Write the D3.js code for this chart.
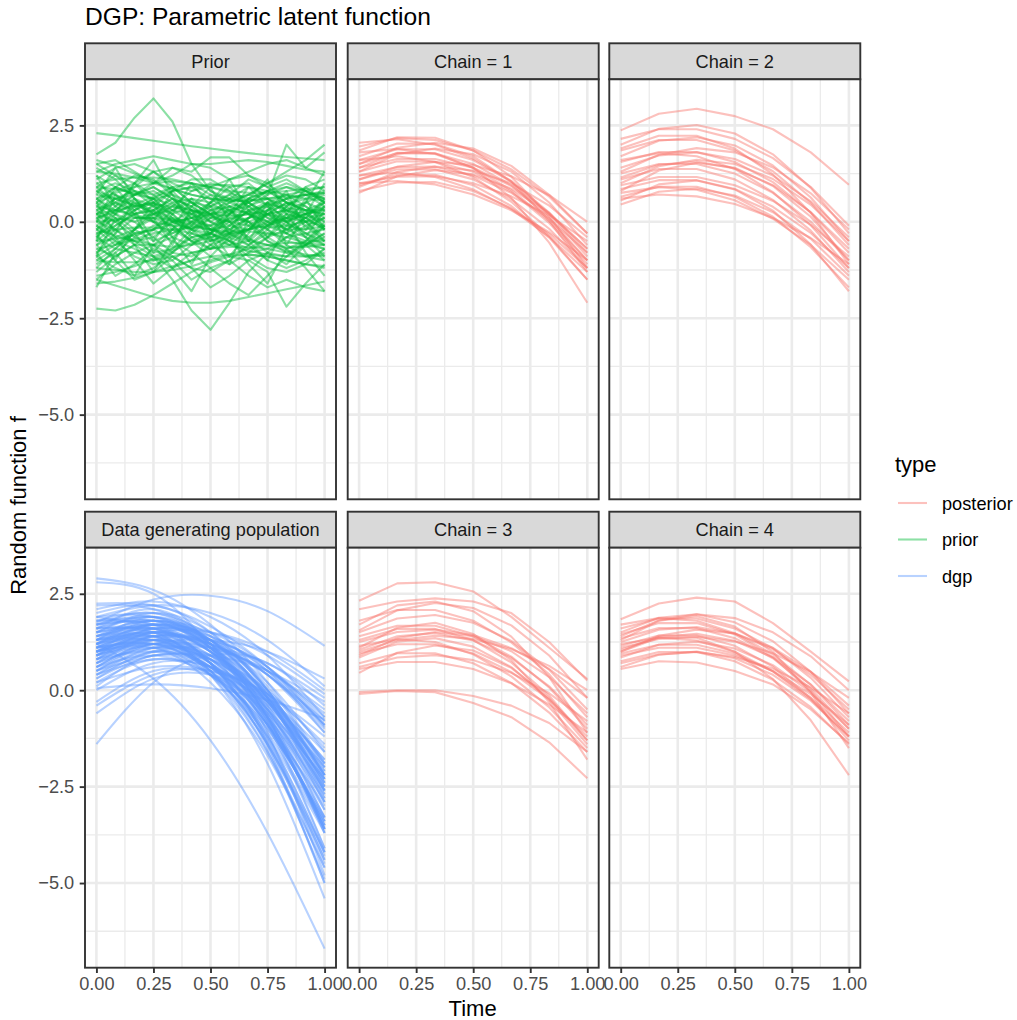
<!DOCTYPE html>
<html>
<head>
<meta charset="utf-8">
<script src="https://cdn.jsdelivr.net/npm/d3@7"></script>
<style>
  body { margin: 0; background: #ffffff; }
  svg { display: block; font-family: "Liberation Sans", Arial, Helvetica, sans-serif; }
</style>
</head>
<body>
<svg id="chart" width="1017" height="1020"></svg>
<script>
// ---------------------------------------------------------------
// Data: draws of the latent function f(time)
// ---------------------------------------------------------------

// Facet labels, in reading order (row 1 then row 2)
const panelLabels = ["Prior", "Chain = 1", "Chain = 2",
                     "Data generating population", "Chain = 3", "Chain = 4"];

// Legend entries and their colours
const typeLabels = ["posterior", "prior", "dgp"];
const typeColors = ["#F8766D", "#00BA38", "#619CFF"];

// Axis ticks
const xTicks = [0, 0.25, 0.5, 0.75, 1];
const yTicks = [-5, -2.5, 0, 2.5];

// Time points of each kind of draw
const priorTime = [0, 0.083, 0.167, 0.25, 0.333, 0.417, 0.5, 0.583, 0.667, 0.75, 0.833, 0.917, 1];
const postTime  = [0, 0.167, 0.333, 0.5, 0.667, 0.833, 1];
const dgpTime   = [0, 0.25, 0.5, 0.75, 1];

// Prior draws of f (Gaussian-process prior)
const priorDraws = [
  [0.2, 0.3, 0.4, 0.45, 0.4, 0.3, 0.15, 0.0, -0.1, -0.15, -0.1, 0.0, 0.1],
  [-0.5, -0.45, -0.35, -0.2, -0.05, 0.1, 0.2, 0.25, 0.25, 0.2, 0.1, 0.0, -0.1],
  [0.9, 0.85, 0.75, 0.6, 0.45, 0.3, 0.2, 0.15, 0.2, 0.3, 0.45, 0.6, 0.75],
  [-1.0, -1.05, -1.05, -1.0, -0.9, -0.8, -0.7, -0.65, -0.65, -0.7, -0.8, -0.9, -1.0],
  [0.6, 0.75, 0.9, 1.0, 1.05, 1.0, 0.9, 0.75, 0.6, 0.45, 0.35, 0.3, 0.3],
  [-0.2, -0.35, -0.5, -0.6, -0.65, -0.6, -0.5, -0.35, -0.2, -0.05, 0.1, 0.2, 0.3],
  [1.3, 1.25, 1.15, 1.0, 0.85, 0.7, 0.6, 0.55, 0.55, 0.6, 0.7, 0.8, 0.9],
  [0.0, 0.05, 0.1, 0.1, 0.05, -0.05, -0.2, -0.35, -0.5, -0.6, -0.65, -0.65, -0.6],
  [-1.4, -1.3, -1.15, -0.95, -0.75, -0.55, -0.4, -0.3, -0.25, -0.3, -0.4, -0.55, -0.7],
  [0.4, 0.3, 0.15, 0.0, -0.1, -0.15, -0.1, 0.05, 0.25, 0.45, 0.6, 0.7, 0.75],
  [1.0, 1.1, 1.15, 1.15, 1.1, 1.0, 0.9, 0.8, 0.75, 0.75, 0.8, 0.85, 0.9],
  [-0.7, -0.6, -0.45, -0.3, -0.2, -0.15, -0.2, -0.3, -0.45, -0.6, -0.75, -0.85, -0.9],
  [0.7, 0.6, 0.45, 0.25, 0.05, -0.1, -0.2, -0.25, -0.2, -0.1, 0.05, 0.2, 0.35],
  [-1.6, -1.55, -1.45, -1.3, -1.15, -1.0, -0.9, -0.85, -0.85, -0.9, -1.0, -1.1, -1.2],
  [0.1, 0.25, 0.45, 0.65, 0.8, 0.9, 0.95, 0.95, 0.9, 0.8, 0.7, 0.6, 0.55],
  [-0.3, -0.2, -0.15, -0.15, -0.2, -0.3, -0.45, -0.6, -0.75, -0.85, -0.9, -0.9, -0.85],
  [1.6, 1.45, 1.25, 1.05, 0.85, 0.7, 0.6, 0.55, 0.55, 0.6, 0.65, 0.7, 0.75],
  [-1.2, -1.25, -1.3, -1.3, -1.25, -1.15, -1.0, -0.85, -0.7, -0.6, -0.55, -0.55, -0.6],
  [0.5, 0.9, 1.2, 1.1, 0.7, 0.3, 0.1, 0.2, 0.5, 0.8, 0.9, 0.7, 0.4],
  [-0.8, -0.3, 0.1, 0.2, -0.1, -0.5, -0.7, -0.5, -0.1, 0.2, 0.3, 0.1, -0.2],
  [0.3, 0.0, -0.4, -0.6, -0.4, 0.0, 0.4, 0.6, 0.5, 0.2, -0.1, -0.2, -0.1],
  [1.1, 1.4, 1.5, 1.3, 1.0, 0.8, 0.9, 1.1, 1.2, 1.0, 0.6, 0.2, -0.1],
  [-0.1, -0.5, -0.9, -1.1, -1.0, -0.6, -0.2, 0.1, 0.2, 0.0, -0.3, -0.5, -0.5],
  [0.8, 0.4, 0.1, 0.1, 0.4, 0.8, 1.0, 0.9, 0.5, 0.1, -0.2, -0.2, 0.1],
  [-1.1, -0.8, -0.4, -0.1, 0.0, -0.2, -0.6, -0.9, -1.0, -0.8, -0.4, -0.1, 0.1],
  [0.0, 0.4, 0.7, 0.6, 0.2, -0.2, -0.3, 0.0, 0.4, 0.6, 0.4, 0.0, -0.4],
  [0.6, 0.3, 0.2, 0.4, 0.8, 1.1, 1.1, 0.8, 0.4, 0.1, 0.0, 0.2, 0.5],
  [-0.4, -0.7, -0.8, -0.6, -0.2, 0.2, 0.4, 0.3, -0.1, -0.5, -0.7, -0.6, -0.3],
  [1.4, 1.1, 0.6, 0.2, 0.0, 0.1, 0.3, 0.4, 0.2, -0.2, -0.5, -0.6, -0.4],
  [-0.6, -0.2, 0.3, 0.6, 0.7, 0.5, 0.2, -0.1, -0.2, 0.0, 0.4, 0.7, 0.8],
  [0.2, 0.6, 0.8, 0.6, 0.1, -0.4, -0.7, -0.6, -0.2, 0.3, 0.6, 0.7, 0.6],
  [-1.3, -0.9, -0.6, -0.6, -0.9, -1.2, -1.3, -1.0, -0.6, -0.3, -0.3, -0.6, -1.0],
  [0.9, 1.2, 1.0, 0.5, 0.0, -0.2, 0.1, 0.5, 0.7, 0.6, 0.3, 0.2, 0.4],
  [-0.9, -1.2, -1.4, -1.2, -0.8, -0.4, -0.3, -0.5, -0.9, -1.2, -1.3, -1.1, -0.7],
  [0.3, 0.5, 0.9, 1.3, 1.4, 1.2, 0.8, 0.6, 0.7, 1.0, 1.2, 1.1, 0.8],
  [-0.2, 0.1, 0.0, -0.4, -0.8, -0.9, -0.6, -0.1, 0.3, 0.4, 0.1, -0.3, -0.6],
  [0.5, -0.3, 0.6, 0.1, -0.6, 0.4, 0.9, 0.0, -0.5, 0.3, 0.8, -0.2, 0.4],
  [-0.5, 0.7, 0.2, -0.8, -0.2, 0.6, -0.4, -1.1, 0.1, 0.5, -0.6, 0.2, 1.0],
  [1.2, 0.4, 1.0, 1.6, 0.7, -0.1, 0.5, 1.1, 0.3, -0.4, 0.2, 0.9, 0.5],
  [-0.9, 0.1, -0.6, -1.3, -0.5, 0.3, -0.2, -0.9, -0.3, 0.5, 0.0, -0.8, -1.4],
  [0.0, 0.9, 0.3, -0.5, 0.2, 1.0, 0.4, -0.3, 0.6, 1.1, 0.2, -0.4, 0.3],
  [-1.7, -0.8, -1.4, -0.6, -1.2, -1.8, -0.9, -0.4, -1.1, -1.6, -0.7, -1.2, -1.8],
  [0.7, 1.4, 0.6, 0.0, 0.8, 0.3, -0.5, 0.2, 0.9, 0.4, -0.3, 0.5, 1.3],
  [-0.3, -1.0, -0.2, 0.5, -0.4, -1.1, -0.3, 0.4, -0.5, -1.0, -0.1, 0.6, -0.2],
  [2.3, 2.24, 2.17, 2.1, 2.03, 1.96, 1.9, 1.84, 1.78, 1.73, 1.68, 1.64, 1.6],
  [1.75, 2.05, 2.7, 3.2, 2.6, 1.5, 0.8, 0.5, 0.7, 1.0, 1.3, 1.6, 2.0],
  [0.2, 0.5, 0.3, 0.6, 0.9, 0.5, 0.2, 0.6, 0.9, 0.7, 2.0, 1.4, 1.8],
  [-0.2, -0.6, -0.3, -0.9, -1.5, -2.3, -2.8, -2.1, -1.3, -0.8, -1.1, -0.6, -0.3],
  [-2.25, -2.3, -2.15, -1.9, -1.6, -1.3, -1.05, -0.9, -0.85, -0.9, -1.0, -1.1, -1.15],
  [-1.5, -1.65, -1.8, -1.95, -2.05, -2.1, -2.1, -2.05, -1.95, -1.85, -1.75, -1.65, -1.55],
  [-0.6, -1.0, -1.5, -1.3, -0.9, -1.2, -1.7, -1.4, -1.0, -1.3, -2.2, -1.6, -1.1],
  [-0.8, -1.4, -1.1, -0.7, -1.0, -1.5, -1.2, -1.0, -1.4, -1.7, -1.5, -1.7, -1.8],
  [0.1, -0.4, -1.0, -1.6, -1.2, -0.8, -1.2, -1.6, -1.9, -1.4, -0.9, -0.6, -0.7],
  [0.6, 0.9, 0.7, 1.0, 1.4, 1.3, 1.67, 1.67, 1.2, 0.9, 1.1, 0.8, 0.6],
  [1.5, 1.6, 1.3, 1.0, 1.2, 1.5, 1.4, 1.1, 1.3, 1.5, 1.6, 1.4, 1.2],
  [1.3, 1.5, 1.6, 1.7, 1.6, 1.5, 1.5, 1.55, 1.6, 1.55, 1.45, 1.35, 1.3],
  [-0.4, 0.2, 1.0, 1.3, 0.9, 0.5, 0.4, 0.7, 1.1, 0.9, 0.5, 0.3, 0.2],
  [0.4, 0.1, -0.3, -0.2, 0.3, 0.5, 0.2, -0.3, -0.6, -0.2, 0.4, 0.8, 0.5],
  [-0.1, 0.2, 0.5, 0.3, -0.2, -0.5, -0.3, 0.2, 0.6, 0.8, 0.5, 0.0, -0.5],
  [0.8, 0.6, 0.7, 0.9, 0.6, 0.2, 0.0, 0.3, 0.5, 0.2, -0.2, 0.1, 0.6],
  [0.2, 0.0, 0.3, 0.5, 0.3, 0.0, 0.2, 0.4, 0.2, 0.0, 0.1, 0.3, 0.2],
  [-0.6, -0.4, -0.5, -0.8, -0.7, -0.4, -0.3, -0.5, -0.8, -0.7, -0.4, -0.3, -0.5],
  [0.5, 0.7, 0.5, 0.2, 0.3, 0.6, 0.5, 0.2, 0.0, 0.2, 0.5, 0.4, 0.1],
  [-0.3, -0.1, 0.2, 0.3, 0.1, -0.2, -0.4, -0.2, 0.1, 0.2, 0.0, -0.3, -0.2],
  [1.0, 0.7, 0.4, 0.5, 0.8, 0.9, 0.6, 0.3, 0.4, 0.7, 0.9, 0.8, 0.6],
  [-1.0, -0.7, -0.3, -0.2, -0.5, -0.8, -0.7, -0.3, 0.0, -0.2, -0.6, -0.9, -0.8],
  [0.3, 0.6, 0.4, 0.0, -0.3, -0.1, 0.3, 0.5, 0.3, -0.1, -0.3, 0.0, 0.4],
  [-0.7, -0.9, -0.6, -0.2, 0.1, 0.0, -0.3, -0.6, -0.5, -0.1, 0.2, 0.1, -0.2],
  [0.1, 0.3, 0.7, 0.9, 0.6, 0.1, -0.2, -0.1, 0.3, 0.5, 0.3, 0.1, 0.2],
  [-0.5, -0.1, 0.2, 0.0, -0.4, -0.6, -0.3, 0.1, 0.0, -0.4, -0.7, -0.5, 0.0],
  [0.9, 0.5, 0.2, 0.3, 0.6, 0.4, 0.0, -0.2, 0.1, 0.5, 0.7, 0.4, 0.0],
  [-1.2, -0.7, -0.2, 0.1, -0.1, -0.5, -0.9, -1.1, -0.8, -0.4, -0.2, -0.4, -0.9],
  [0.4, 0.8, 1.0, 0.7, 0.3, 0.2, 0.5, 0.9, 1.0, 0.6, 0.2, 0.0, 0.2],
  [-0.1, -0.4, -0.2, 0.3, 0.6, 0.4, 0.0, -0.3, -0.2, 0.2, 0.5, 0.3, -0.2],
  [1.2, 0.9, 0.7, 0.8, 0.5, 0.1, -0.1, 0.2, 0.6, 0.8, 0.5, 0.3, 0.5],
  [-0.8, -0.5, -0.7, -1.0, -0.8, -0.3, 0.1, 0.0, -0.4, -0.8, -0.9, -0.5, -0.1],
  [0.0, -0.2, -0.5, -0.4, 0.0, 0.3, 0.2, -0.2, -0.4, -0.1, 0.3, 0.5, 0.3],
  [0.6, 0.2, 0.0, 0.2, 0.5, 0.6, 0.3, 0.0, 0.1, 0.4, 0.6, 0.9, 1.1],
  [-0.4, 0.0, 0.4, 0.5, 0.2, -0.3, -0.5, -0.3, 0.1, 0.3, 0.0, -0.4, -0.6],
  [0.2, -0.2, -0.6, -0.9, -0.7, -0.2, 0.2, 0.3, 0.0, -0.5, -0.8, -0.6, -0.1],
  [-1.5, -1.1, -0.8, -0.9, -1.2, -1.0, -0.6, -0.4, -0.6, -1.0, -1.2, -1.0, -0.7],
  [0.8, 1.0, 0.8, 0.4, 0.2, 0.4, 0.7, 0.6, 0.2, -0.1, 0.1, 0.5, 0.7],
  [-0.2, 0.3, 0.6, 0.4, 0.0, 0.1, 0.5, 0.7, 0.4, 0.0, -0.2, 0.1, 0.5],
  [0.5, 0.2, -0.2, -0.5, -0.3, 0.0, -0.1, -0.5, -0.7, -0.4, 0.0, 0.2, 0.0],
  [-0.9, -0.6, -0.2, 0.2, 0.4, 0.2, -0.2, -0.4, -0.2, 0.2, 0.3, -0.1, -0.5],
  [1.5, 1.2, 0.8, 0.7, 0.9, 1.0, 0.7, 0.4, 0.5, 0.8, 1.0, 0.8, 0.5]
];

// Quadratic curves of the data generating population
const dgpDraws = [
  [1.0, 1.4, 1.2, 0.4, -1.0], [1.2, 1.5, 1.0, -0.3, -2.4], [0.8, 1.3, 0.9, -0.4, -2.6],
  [1.5, 1.6, 1.0, -0.3, -2.3], [0.5, 1.1, 0.9, -0.1, -1.9], [1.7, 1.8, 1.4, 0.5, -0.9],
  [1.3, 1.7, 1.1, -0.5, -3.1], [0.9, 1.5, 1.0, -0.6, -3.3], [1.1, 1.3, 1.1, 0.5, -0.5],
  [0.3, 0.9, 0.8, 0.0, -1.5], [1.6, 1.9, 1.3, -0.2, -2.6], [1.0, 1.2, 0.8, -0.2, -1.8],
  [0.6, 1.2, 0.6, -1.2, -4.2], [1.4, 1.8, 1.1, -0.7, -3.6], [1.8, 1.7, 1.0, -0.3, -2.2],
  [0.4, 1.0, 1.1, 0.7, -0.2], [1.2, 1.6, 0.7, -1.5, -5.0], [0.7, 1.1, 0.8, -0.2, -1.9],
  [1.0, 1.6, 1.3, 0.1, -2.0], [1.9, 1.9, 1.1, -0.5, -2.9], [0.2, 0.8, 0.4, -1.0, -3.4],
  [1.3, 1.5, 1.2, 0.4, -0.9], [1.1, 1.7, 1.1, -0.7, -3.7], [0.8, 1.0, 0.6, -0.4, -2.0],
  [1.5, 2.0, 1.5, 0.0, -2.5], [0.0, 0.7, 0.6, -0.3, -2.0], [1.6, 1.6, 1.2, 0.4, -0.8],
  [0.9, 1.3, 0.7, -0.9, -3.5], [1.2, 1.4, 0.7, -0.9, -3.4], [0.6, 1.3, 1.3, 0.6, -0.8],
  [1.4, 1.5, 0.4, -1.9, -5.4], [2.2, 2.1, 1.3, -0.2, -2.4], [1.0, 1.5, 1.5, 1.0, 0.0],
  [0.7, 1.4, 1.1, -0.2, -2.5], [1.3, 1.3, 0.7, -0.5, -2.3], [0.5, 0.9, 0.9, 0.5, -0.3],
  [1.7, 2.0, 1.2, -0.7, -3.7], [1.1, 1.2, 0.5, -1.0, -3.3], [0.3, 1.0, 0.6, -0.9, -3.5],
  [1.5, 1.8, 1.5, 0.6, -0.9], [0.9, 1.1, 0.4, -1.2, -3.7], [1.2, 1.8, 1.2, -0.6, -3.6],
  [0.8, 1.2, 1.1, 0.5, -0.6], [1.4, 1.7, 1.2, -0.1, -2.2], [1.0, 1.1, 0.2, -1.7, -4.6],
  [0.4, 1.1, 0.9, -0.2, -2.2], [1.9, 1.6, 0.8, -0.5, -2.3], [1.1, 1.6, 1.4, 0.5, -1.1],
  [0.6, 0.9, 0.4, -0.9, -3.0], [1.3, 1.9, 1.2, -0.8, -4.1], [1.6, 1.5, 0.5, -1.4, -4.2],
  [0.7, 1.2, 1.3, 1.0, 0.3], [1.0, 1.3, 0.5, -1.4, -4.4], [1.8, 2.0, 1.4, 0.0, -2.2],
  [0.2, 0.6, 0.5, -0.1, -1.2], [1.2, 1.3, 0.7, -0.6, -2.6], [0.9, 1.6, 1.3, 0.0, -2.3],
  [1.4, 1.4, 0.4, -1.6, -4.6], [-0.3, 0.5, 0.4, -0.6, -2.5], [1.5, 1.7, 1.5, 0.9, -0.1],
  [0.8, 1.4, 1.2, 0.2, -1.6], [1.1, 1.4, 0.5, -1.6, -4.9], [2.0, 2.2, 1.5, -0.1, -2.6],
  [0.5, 1.2, 0.8, -0.7, -3.3], [1.3, 1.6, 1.3, 0.4, -1.1], [1.0, 1.2, 0.5, -1.1, -3.6],
  [-0.4, 0.4, 0.5, -0.1, -1.4], [1.7, 1.7, 0.7, -1.3, -4.3], [2.9, 2.6, 1.7, 0.2, -1.9],
  [2.8, 2.5, 1.1, -1.4, -5.0], [1.2, 0.3, -1.3, -3.7, -6.7], [-1.4, 0.2, 0.9, 0.7, -0.4],
  [1.75, 2.35, 2.45, 2.05, 1.15], [0.05, 0.15, 0.05, -0.25, -0.75], [2.25, 2.2, 1.65, 0.6, -0.95],
  [2.1, 2.3, 1.9, 0.9, -0.7], [-0.6, 0.3, 0.4, -0.3, -1.8], [0.1, 0.9, 0.4, -1.4, -4.5],
  [1.6, 2.1, 1.2, -1.1, -4.8], [1.9, 2.2, 2.0, 1.3, 0.1],
  [1.1, 1.5, 1.1, -0.1, -2.1], [0.9, 1.2, 0.8, -0.3, -2.1], [1.3, 1.8, 1.3, -0.2, -2.7],
  [0.7, 1.3, 0.8, -0.8, -3.5], [1.5, 1.9, 1.1, -0.9, -4.1], [1.0, 1.4, 0.9, -0.5, -2.8],
  [1.2, 1.7, 1.3, 0.0, -2.2], [0.6, 1.1, 0.6, -0.9, -3.4], [1.4, 1.6, 0.7, -1.3, -4.4],
  [0.8, 1.5, 1.0, -0.7, -3.6], [1.7, 1.9, 1.2, -0.4, -2.9], [1.1, 1.2, 0.6, -0.7, -2.7],
  [0.5, 1.0, 0.6, -0.7, -2.9], [1.3, 1.4, 0.7, -0.8, -3.1], [1.6, 1.8, 1.0, -0.8, -3.6],
  [0.9, 1.4, 1.3, 0.6, -0.7], [1.2, 1.5, 0.7, -1.2, -4.2], [0.4, 0.8, 0.6, -0.2, -1.6],
  [1.0, 1.7, 1.3, -0.2, -2.8], [1.8, 1.8, 1.1, -0.3, -2.4]
];

// Posterior draws of f, one array per MCMC chain
const chain1 = [
  [1.5, 1.78, 1.77, 1.5, 0.95, 0.1, -1.0], [1.2, 1.42, 1.43, 1.2, 0.75, 0.08, -0.8],
  [1.95, 2.17, 2.12, 1.85, 1.36, 0.65, -0.3], [0.8, 1.02, 1.03, 0.8, 0.35, -0.31, -1.2],
  [1.7, 2.03, 2.02, 1.7, 1.04, 0.03, -1.3], [1.0, 1.17, 1.18, 1.0, 0.66, 0.17, -0.5],
  [1.4, 1.79, 1.78, 1.4, 0.62, -0.54, -2.1], [1.3, 1.57, 1.56, 1.3, 0.78, -0.03, -1.1],
  [1.1, 1.43, 1.55, 1.47, 1.18, 0.69, 0.0], [0.9, 1.29, 1.43, 1.33, 1.0, 0.42, -0.4],
  [1.3, 1.76, 1.9, 1.75, 1.3, 0.5, -0.6], [0.75, 1.18, 1.34, 1.23, 0.86, 0.21, -0.7],
  [1.5, 1.92, 2.05, 1.9, 1.45, 0.7, -0.3], [1.8, 1.89, 1.76, 1.4, 0.82, 0.02, -1.0],
  [1.6, 1.7, 1.55, 1.16, 0.52, -0.37, -1.5], [1.2, 1.28, 1.16, 0.84, 0.33, -0.39, -1.3],
  [2.05, 2.14, 2.0, 1.64, 1.06, 0.24, -0.8], [1.0, 1.06, 0.97, 0.71, 0.3, -0.27, -1.0],
  [1.6, 1.88, 1.88, 1.6, 1.04, 0.21, -0.9], [1.1, 1.36, 1.36, 1.1, 0.59, -0.18, -1.2],
  [1.85, 2.19, 2.18, 1.85, 1.17, 0.15, -1.2], [1.4, 1.63, 1.63, 1.4, 0.93, 0.23, -0.7],
  [0.95, 1.22, 1.22, 0.95, 0.41, -0.41, -1.5]
];
const chain2 = [
  [2.37, 2.8, 2.93, 2.74, 2.4, 1.8, 0.96], [2.15, 2.4, 2.4, 2.15, 1.65, 0.9, -0.1],
  [2.0, 2.41, 2.51, 2.29, 1.75, 0.88, -0.3], [1.85, 2.12, 2.12, 1.85, 1.31, 0.49, -0.6],
  [1.7, 2.1, 2.19, 1.98, 1.46, 0.63, -0.5], [1.55, 1.81, 1.81, 1.55, 1.03, 0.24, -0.8],
  [1.4, 1.72, 1.8, 1.63, 1.2, 0.53, -0.4], [1.25, 1.5, 1.5, 1.25, 0.75, 0.0, -1.0],
  [1.15, 1.48, 1.56, 1.38, 0.95, 0.25, -0.7], [1.1, 1.37, 1.37, 1.1, 0.57, -0.23, -1.3],
  [1.0, 1.44, 1.61, 1.5, 1.11, 0.44, -0.5], [0.85, 1.08, 1.08, 0.85, 0.39, -0.29, -1.2],
  [0.75, 0.9, 0.83, 0.56, 0.08, -0.6, -1.5], [0.65, 0.91, 0.91, 0.65, 0.13, -0.66, -1.7],
  [0.55, 0.97, 1.07, 0.84, 0.29, -0.59, -1.8], [0.45, 0.78, 0.86, 0.68, 0.25, -0.44, -1.4],
  [0.8, 1.33, 1.53, 1.4, 0.93, 0.13, -1.0], [1.3, 1.74, 1.91, 1.8, 1.41, 0.74, -0.2],
  [0.6, 0.71, 0.66, 0.46, 0.1, -0.42, -1.1], [1.6, 1.78, 1.7, 1.37, 0.77, -0.09, -1.2],
  [0.95, 1.16, 1.16, 0.95, 0.54, -0.08, -0.9], [1.9, 2.23, 2.23, 1.9, 1.23, 0.23, -1.1]
];
const chain3 = [
  [2.32, 2.77, 2.8, 2.56, 1.9, 1.1, 0.29], [2.1, 2.3, 2.38, 2.3, 2.0, 1.25, 0.25],
  [-0.1, -0.02, -0.05, -0.33, -0.7, -1.35, -2.28], [-0.05, 0.0, 0.0, -0.15, -0.4, -0.85, -1.6],
  [1.5, 1.86, 1.95, 1.75, 1.28, 0.53, -0.5], [1.4, 1.67, 1.67, 1.4, 0.87, 0.07, -1.0],
  [1.25, 1.51, 1.57, 1.43, 1.09, 0.55, -0.2], [1.05, 1.4, 1.48, 1.29, 0.84, 0.1, -0.9],
  [0.95, 1.19, 1.19, 0.95, 0.47, -0.24, -1.2], [0.85, 1.26, 1.35, 1.13, 0.6, -0.24, -1.4],
  [0.7, 0.96, 0.96, 0.7, 0.19, -0.58, -1.6], [0.6, 0.85, 0.91, 0.78, 0.45, -0.08, -0.8],
  [0.45, 0.97, 1.16, 1.03, 0.58, -0.2, -1.3], [1.8, 2.08, 2.08, 1.8, 1.24, 0.41, -0.7],
  [1.7, 2.2, 2.3, 2.05, 1.39, 0.34, -1.1], [1.15, 1.32, 1.25, 0.93, 0.36, -0.44, -1.5],
  [0.9, 1.35, 1.51, 1.4, 1.01, 0.34, -0.6], [1.3, 1.59, 1.59, 1.3, 0.72, -0.14, -1.3],
  [1.0, 1.3, 1.41, 1.33, 1.07, 0.63, 0.0], [1.55, 2.07, 2.26, 2.13, 1.68, 0.9, -0.2],
  [0.55, 0.73, 0.73, 0.55, 0.18, -0.37, -1.1], [1.1, 1.62, 1.75, 1.46, 0.78, -0.31, -1.8]
];
const chain4 = [
  [1.84, 2.25, 2.4, 2.3, 1.74, 1.0, 0.23], [0.55, 0.75, 0.72, 0.5, 0.15, -0.5, -1.37],
  [1.0, 1.36, 1.36, 1.0, 0.29, -0.78, -2.2], [1.6, 1.86, 1.86, 1.6, 1.09, 0.32, -0.7],
  [1.5, 1.88, 1.97, 1.76, 1.27, 0.48, -0.6], [1.35, 1.61, 1.61, 1.35, 0.83, 0.04, -1.0],
  [1.25, 1.57, 1.64, 1.47, 1.06, 0.4, -0.5], [1.15, 1.42, 1.42, 1.15, 0.61, -0.21, -1.3],
  [1.05, 1.38, 1.46, 1.28, 0.85, 0.15, -0.8], [0.95, 1.18, 1.18, 0.95, 0.49, -0.19, -1.1],
  [0.85, 1.18, 1.26, 1.08, 0.65, -0.05, -1.0], [0.75, 0.99, 0.99, 0.75, 0.27, -0.44, -1.4],
  [0.7, 0.93, 0.99, 0.86, 0.56, 0.07, -0.6], [1.7, 1.87, 1.8, 1.48, 0.93, 0.14, -0.9],
  [1.4, 1.81, 1.97, 1.87, 1.5, 0.88, 0.0], [1.2, 1.36, 1.29, 1.0, 0.49, -0.24, -1.2],
  [1.0, 1.41, 1.57, 1.47, 1.1, 0.48, -0.4], [0.9, 1.1, 1.1, 0.9, 0.5, -0.1, -0.9],
  [1.3, 1.8, 1.92, 1.65, 0.99, -0.06, -1.5], [0.6, 0.92, 1.0, 0.83, 0.4, -0.27, -1.2],
  [1.45, 1.74, 1.74, 1.45, 0.86, -0.02, -1.2], [1.1, 1.33, 1.39, 1.26, 0.96, 0.47, -0.2]
];

// ---------------------------------------------------------------
// Layout
// ---------------------------------------------------------------
const panelW = 251, panelH = 420, stripH = 36;
const colX = [85, 347.7, 609.3];
const stripTop = [43.3, 511.7];
const smallFont = 18.2, axisTitleFont = 22, titleFont = 24.6;

const panels = [
  { label: panelLabels[0], type: "prior",     time: priorTime, draws: priorDraws, curve: d3.curveLinear },
  { label: panelLabels[1], type: "posterior", time: postTime,  draws: chain1,     curve: d3.curveLinear },
  { label: panelLabels[2], type: "posterior", time: postTime,  draws: chain2,     curve: d3.curveLinear },
  { label: panelLabels[3], type: "dgp",       time: dgpTime,   draws: dgpDraws,   curve: d3.curveNatural },
  { label: panelLabels[4], type: "posterior", time: postTime,  draws: chain3,     curve: d3.curveLinear },
  { label: panelLabels[5], type: "posterior", time: postTime,  draws: chain4,     curve: d3.curveLinear }
];
panels.forEach((p, i) => { p.col = i % 3; p.row = Math.floor(i / 3); });

const colorOf = d3.scaleOrdinal().domain(typeLabels).range(typeColors);

// Shared scales with 5% expansion on both axes
const x = d3.scaleLinear().domain([-0.05, 1.05]).range([0, panelW]);
const allValues = panels.flatMap(p => p.draws.flat());
const [lo, hi] = d3.extent(allValues);
const pad = (hi - lo) * 0.05;
const y = d3.scaleLinear().domain([lo - pad, hi + pad]).range([panelH, 0]);

const xMinor = [0.125, 0.375, 0.625, 0.875];
const yMinor = [-6.25, -3.75, -1.25, 1.25, 3.75].filter(v => v > y.domain()[0] && v < y.domain()[1]);

const lineWidth = 2.1, lineAlpha = 0.45;

const svg = d3.select("#chart");
svg.append("rect").attr("width", 1017).attr("height", 1020).attr("fill", "#ffffff");

const defs = svg.append("defs");
defs.append("clipPath").attr("id", "panel-clip")
  .append("rect").attr("width", panelW).attr("height", panelH);

panels.forEach(p => {
  const px = colX[p.col];
  const sy = stripTop[p.row];
  const py = sy + stripH;

  // strip
  svg.append("rect")
    .attr("x", px).attr("y", sy).attr("width", panelW).attr("height", stripH)
    .attr("fill", "#D9D9D9").attr("stroke", "#333333").attr("stroke-width", 1.9);
  svg.append("text")
    .attr("x", px + panelW / 2).attr("y", sy + stripH / 2 + 6.5)
    .attr("text-anchor", "middle").attr("font-size", smallFont).attr("fill", "#1A1A1A")
    .text(p.label);

  const g = svg.append("g").attr("transform", `translate(${px},${py})`);
  g.append("rect").attr("width", panelW).attr("height", panelH).attr("fill", "#ffffff");

  // minor grid
  g.selectAll(".gxm").data(xMinor).join("line")
    .attr("x1", d => x(d)).attr("x2", d => x(d)).attr("y1", 0).attr("y2", panelH)
    .attr("stroke", "#EBEBEB").attr("stroke-width", 1.3);
  g.selectAll(".gym").data(yMinor).join("line")
    .attr("x1", 0).attr("x2", panelW).attr("y1", d => y(d)).attr("y2", d => y(d))
    .attr("stroke", "#EBEBEB").attr("stroke-width", 1.3);
  // major grid
  g.selectAll(".gx").data(xTicks).join("line")
    .attr("x1", d => x(d)).attr("x2", d => x(d)).attr("y1", 0).attr("y2", panelH)
    .attr("stroke", "#EBEBEB").attr("stroke-width", 2.6);
  g.selectAll(".gy").data(yTicks).join("line")
    .attr("x1", 0).attr("x2", panelW).attr("y1", d => y(d)).attr("y2", d => y(d))
    .attr("stroke", "#EBEBEB").attr("stroke-width", 2.6);

  // draws
  const lg = g.append("g").attr("clip-path", "url(#panel-clip)");
  const gen = d3.line().curve(p.curve);
  lg.selectAll("path").data(p.draws).join("path")
    .attr("d", d => gen(d.map((v, i) => [x(p.time[i]), y(v)])))
    .attr("fill", "none")
    .attr("stroke", colorOf(p.type))
    .attr("stroke-opacity", lineAlpha)
    .attr("stroke-width", lineWidth)
    .attr("stroke-linejoin", "round");

  // border
  g.append("rect").attr("width", panelW).attr("height", panelH)
    .attr("fill", "none").attr("stroke", "#333333").attr("stroke-width", 1.9);

  // y axis on the first column
  if (p.col === 0) {
    const ax = g.append("g").call(
      d3.axisLeft(y).tickValues(yTicks).tickSize(5.3).tickPadding(5.5).tickFormat(d3.format(".1f")));
    ax.select(".domain").remove();
    ax.selectAll(".tick line").attr("stroke", "#333333").attr("stroke-width", 1.9);
    ax.selectAll(".tick text").attr("fill", "#4D4D4D").attr("font-size", smallFont)
      .attr("font-family", "Liberation Sans, Arial, sans-serif");
  }
  // x axis on the bottom row
  if (p.row === 1) {
    const ax = g.append("g").attr("transform", `translate(0,${panelH})`).call(
      d3.axisBottom(x).tickValues(xTicks).tickSize(5.3).tickPadding(4).tickFormat(d3.format(".2f")));
    ax.select(".domain").remove();
    ax.selectAll(".tick line").attr("stroke", "#333333").attr("stroke-width", 1.9);
    ax.selectAll(".tick text").attr("fill", "#4D4D4D").attr("font-size", smallFont)
      .attr("font-family", "Liberation Sans, Arial, sans-serif");
  }
});

// Titles
svg.append("text").attr("x", 85).attr("y", 25)
  .attr("font-size", titleFont).attr("fill", "#000000")
  .text("DGP: Parametric latent function");
svg.append("text")
  .attr("x", (colX[0] + colX[2] + panelW) / 2).attr("y", 1016)
  .attr("text-anchor", "middle").attr("font-size", axisTitleFont).attr("fill", "#000000")
  .text("Time");
svg.append("text")
  .attr("transform", `translate(26,${(stripTop[0] + stripTop[1] + stripH + panelH) / 2}) rotate(-90)`)
  .attr("text-anchor", "middle").attr("font-size", axisTitleFont).attr("fill", "#000000")
  .text("Random function f");

// Legend
const leg = svg.append("g").attr("transform", "translate(895,0)");
leg.append("text").attr("x", 0).attr("y", 472).attr("font-size", axisTitleFont).attr("fill", "#000000").text("type");
typeLabels.forEach((t, i) => {
  const cy = 503 + i * 36.5;
  leg.append("line").attr("x1", 3).attr("x2", 32).attr("y1", cy).attr("y2", cy)
    .attr("stroke", colorOf(t)).attr("stroke-opacity", lineAlpha).attr("stroke-width", lineWidth);
  leg.append("text").attr("x", 47).attr("y", cy + 6.5).attr("font-size", smallFont).attr("fill", "#000000").text(t);
});
</script>
</body>
</html>
